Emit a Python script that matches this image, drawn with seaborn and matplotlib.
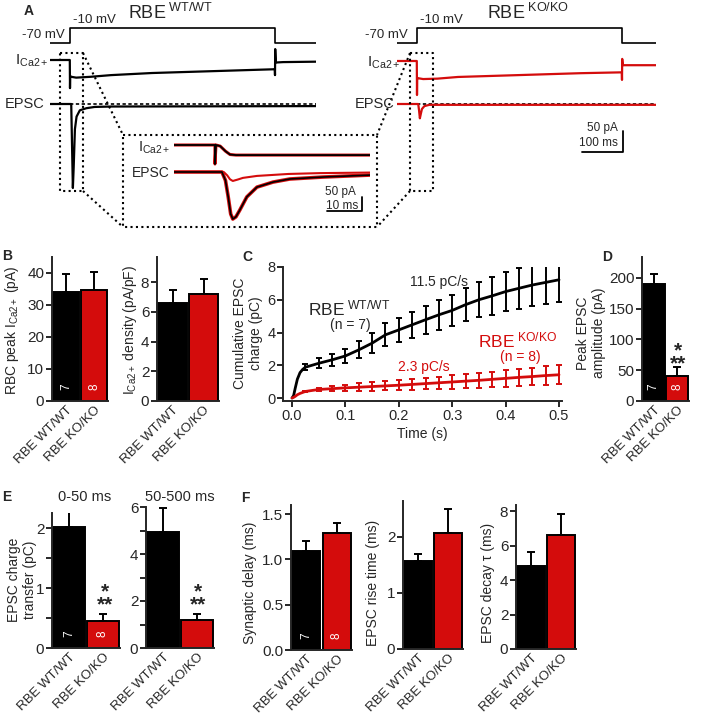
import matplotlib
matplotlib.use('Agg')
import matplotlib.pyplot as plt
import numpy as np
import pandas as pd
import seaborn as sns

# ---------------- data ----------------
genotypes = ['RBE WT/WT', 'RBE KO/KO']
n_cells = ['7', '8']

# B
ica_peak = [34.1, 34.7]
ica_peak_sem = [5.6, 5.6]
ica_dens = [6.58, 7.18]
ica_dens_sem = [0.92, 1.02]
# D
epsc_peak = [190, 40.6]
epsc_peak_sem = [16.5, 14.4]
# E
q_early = [2.02, 0.45]
q_early_sem = [0.33, 0.12]
q_late = [4.94, 1.19]
q_late_sem = [1.02, 0.26]
# F
syn_delay = [1.09, 1.29]
syn_delay_sem = [0.11, 0.11]
rise_time = [1.57, 2.07]
rise_time_sem = [0.13, 0.43]
decay_tau = [4.81, 6.61]
decay_tau_sem = [0.81, 1.22]

# C : cumulative charge (pC) vs time (s)
t_fast = [0, 0.003, 0.006, 0.01, 0.015, 0.02]
wt_fast = [0, 0.15, 0.6, 1.15, 1.55, 1.75]
ko_fast = [0, 0.04, 0.1, 0.2, 0.28, 0.34]
t_bin = [0.025, 0.05, 0.075, 0.1, 0.125, 0.15, 0.175, 0.2, 0.225, 0.25,
         0.275, 0.3, 0.325, 0.35, 0.375, 0.4, 0.425, 0.45, 0.475, 0.5]
wt_q = [1.88, 2.12, 2.33, 2.57, 2.94, 3.35, 3.86, 4.16, 4.47, 4.78,
        5.08, 5.35, 5.70, 6.00, 6.24, 6.50, 6.70, 6.90, 7.06, 7.22]
wt_q_sem = [0.2, 0.3, 0.38, 0.45, 0.52, 0.6, 0.7, 0.72, 0.78, 0.85,
            0.9, 0.95, 1.0, 1.08, 1.15, 1.2, 1.25, 1.3, 1.35, 1.35]
ko_q = [0.4, 0.52, 0.57, 0.62, 0.66, 0.7, 0.74, 0.78, 0.83, 0.88,
        0.93, 0.98, 1.03, 1.08, 1.14, 1.2, 1.26, 1.31, 1.37, 1.42]
ko_q_sem = [0.05, 0.1, 0.15, 0.2, 0.23, 0.26, 0.28, 0.3, 0.32, 0.35,
            0.38, 0.4, 0.42, 0.45, 0.47, 0.5, 0.52, 0.54, 0.56, 0.58]

# A : example traces (ms, mV / pA)
cmd_t = [-50, 0, 0, 500, 500, 600]
cmd_mv = [-70, -70, -10, -10, -70, -70]

ica_wt_t = [-50, -0.5, 0, 0.5, 3, 15, 50, 100, 200, 300, 400, 499.5, 500, 500.5, 502, 520, 600]
ica_wt = [0, 0, -67, -38, -40, -42, -40, -36, -31, -28, -25, -22, -36, 26, -6, -5, -4]
ica_ko_t = [-50, -0.5, 0, 0.5, 3, 15, 50, 100, 200, 300, 400, 499.5, 500, 500.5, 502, 520, 600]
ica_ko = [0, 0, -81, -40, -41, -43, -42, -38, -35, -32, -29, -27, -45, 5, -10, -10, -10]

epsc_wt_t = [-50, 3, 5, 7, 9, 12, 16, 24, 40, 60, 100, 600]
epsc_wt = [0, 0, -100, -200, -150, -60, -30, -15, -10, -7, -6, -5]
epsc_ko_t = [-50, 3, 5, 7, 9, 12, 18, 30, 600]
epsc_ko = [0, 0, -15, -34, -25, -12, -5, -2, -2]

# inset (ms, pA)
ica_in_t = [-11.7, 0, 0, 0.3, 1.5, 3, 4.3, 6, 44.3]
ica_in = [0, 0, -68, 0, -4, -22, -34, -36, -36]
epsc_in_t = [-11.7, 2.0, 3.0, 3.8, 4.5, 5.1, 6.0, 7.1, 9.1, 12.0, 16.6, 21.4, 30.9, 44.3]
epsc_in_wt = [0, 0, -30, -90, -150, -168, -160, -136, -89, -54, -36, -25, -18, -11]
epsc_in_ko_t = [-11.7, 2.5, 3.5, 4.3, 5.1, 6.5, 8.0, 12.0, 21.0, 30.0, 44.3]
epsc_in_ko = [0, 0, -12, -26, -32, -27, -21, -14, -7, -4, -2]

# ---------------- style ----------------
sns.set_style('ticks')
plt.rcParams['font.family'] = ['Liberation Sans', 'DejaVu Sans']
plt.rcParams['mathtext.fontset'] = 'custom'
plt.rcParams['mathtext.rm'] = 'Liberation Sans'
plt.rcParams['mathtext.it'] = 'Liberation Sans:italic'
plt.rcParams['mathtext.bf'] = 'Liberation Sans:bold'
plt.rcParams['axes.linewidth'] = 1.4

BLACK = '#000000'
RED = '#d40c0c'
W, H = 709, 716
ICA = 'I$_{\\mathrm{Ca2+}}$'

fig = plt.figure(figsize=(W / 100, H / 100), dpi=100)


def px_axes(x0, y0, x1, y1):
    return fig.add_axes([x0 / W, 1 - y1 / H, (x1 - x0) / W, (y1 - y0) / H])


def ylab(ax, text, px_x, px_y, fs=10):
    p = ax.get_position()
    ax.set_ylabel(text, fontsize=fs, va='center', ha='center', multialignment='center')
    ax.yaxis.set_label_coords((px_x / W - p.x0) / p.width,
                              ((1 - px_y / H) - p.y0) / p.height)


def trace_axes(x0, y0, t0, t1, ms_px, pa_px, h):
    ax = px_axes(x0, y0, x0 + (t1 - t0) * ms_px, y0 + h)
    ax.set_xlim(t0, t1)
    ax.set_ylim(-h / pa_px, 0)
    ax.axis('off')
    return ax


# ---------------- A: traces ----------------
PA = 0.42
MS = 0.41
cmd_k = 15 / PA / 60
for x0, t1, ica_t, ica, ep_t, ep, col, ica_y in [
        (49.5, 600, ica_wt_t, ica_wt, epsc_wt_t, epsc_wt, BLACK, 60),
        (396.5, 583, ica_ko_t, ica_ko, epsc_ko_t, epsc_ko, RED, 61)]:
    ax = trace_axes(x0, 20, -50, t1, MS, PA, 180)
    ax.plot(cmd_t, -(43 - 20) / PA + (np.array(cmd_mv) + 70) * cmd_k, color=BLACK, lw=1.2)
    ax.plot(ica_t, -(ica_y - 20) / PA + np.array(ica), color=col, lw=1.6)
    ax.plot([0, t1], [-(104 - 20) / PA] * 2, color=BLACK, lw=1.2, ls=(0, (2, 1.5)))
    ax.plot(ep_t, -(104 - 20) / PA + np.array(ep), color=col, lw=1.6)
    if col == RED:
        ax.plot([402, 502, 502], [-(152 - 20) / PA] * 2 + [-(152 - 20) / PA + 50],
                color=BLACK, lw=1.3)

# inset
PA_I = 0.28
axi = trace_axes(174, 135, -11.7, 44.3, 3.5, PA_I, 92)
ica_off = -(145 - 135) / PA_I
ep_off = -(172 - 135) / PA_I
axi.plot(ica_in_t, ica_off + np.array(ica_in), color=RED, lw=2.2)
axi.plot(ica_in_t, ica_off + np.array(ica_in), color=BLACK, lw=1.3)
axi.plot(epsc_in_ko_t, ep_off + np.array(epsc_in_ko), color=RED, lw=1.5)
axi.plot(epsc_in_t, ep_off + np.array(epsc_in_wt), color=RED, lw=2.6)
axi.plot(epsc_in_t, ep_off + np.array(epsc_in_wt), color=BLACK, lw=1.2)
sb_y = -(211 - 135) / PA_I
axi.plot([32, 42, 42], [sb_y, sb_y, sb_y + 50], color=BLACK, lw=1.3)


# ---------------- bar panels ----------------
def bar_panel(box, vals, sems, ymax, ticks, minor=None, ns=False):
    ax = px_axes(*box)
    df = pd.DataFrame({'genotype': genotypes, 'value': vals})
    sns.barplot(data=df, x='genotype', y='value', hue='genotype',
                palette=[BLACK, RED], saturation=1, legend=False, width=0.92,
                edgecolor=BLACK, linewidth=1.4, errorbar=None, ax=ax)
    ax.errorbar([0, 1], vals, yerr=[[0, 0], sems], fmt='none', ecolor=BLACK,
                elinewidth=1.4, capsize=3, capthick=1.4, zorder=0)
    ax.set_xlim(-0.5, 1.5)
    ax.set_ylim(0, ymax)
    sns.despine(ax=ax)
    ax.set_xlabel('')
    ax.set_ylabel('')
    ax.set_yticks(ticks)
    if minor is not None:
        ax.set_yticks(minor, minor=True)
    ax.set_xticks([0, 1])
    ax.set_xticklabels(genotypes, rotation=45, ha='right',
                       rotation_mode='anchor', fontsize=9.5)
    ax.tick_params(axis='x', length=0, pad=2)
    ax.tick_params(axis='y', which='both', length=4, width=1.4,
                   labelsize=11, pad=1.5)
    if ns:
        for i, n in enumerate(n_cells):
            ax.annotate(n, xy=(i, 0), xytext=(0, 10), textcoords='offset points',
                        color='white', rotation=90, ha='center', va='center',
                        fontsize=8.5)
    return ax


axB1 = bar_panel((52, 257, 108, 401), ica_peak, ica_peak_sem, 45, [0, 10, 20, 30, 40], ns=True)
ylab(axB1, 'RBC peak ' + ICA + ' (pA)', 12, 330)
axB2 = bar_panel((157, 257, 219, 401), ica_dens, ica_dens_sem, 9.7, [0, 2, 4, 6, 8])
ylab(axB2, ICA + ' density (pA/pF)', 130, 330)

axD = bar_panel((642, 257, 689, 401), epsc_peak, epsc_peak_sem, 234, [0, 50, 100, 150, 200], ns=True)
ylab(axD, 'Peak EPSC\namplitude (pA)', 591, 333)

axE1 = bar_panel((52, 513, 120, 648), q_early, q_early_sem, 2.25, [0, 1, 2],
                 minor=[0.5, 1.5], ns=True)
ylab(axE1, 'EPSC charge\ntransfer (pC)', 22, 580)
axE2 = bar_panel((146, 507, 214, 648), q_late, q_late_sem, 6.0, [0, 2, 4, 6],
                 minor=[1, 3, 5])

axF1 = bar_panel((291, 505, 352, 650), syn_delay, syn_delay_sem, 1.6,
                 [0, 0.5, 1.0, 1.5], ns=True)
axF1.set_yticklabels(['0.0', '0.5', '1.0', '1.5'])
ylab(axF1, 'Synaptic delay (ms)', 250, 583)
axF2 = bar_panel((403, 501, 463, 649), rise_time, rise_time_sem, 2.64, [0, 1, 2])
ylab(axF2, 'EPSC rise time (ms)', 373, 583)
axF3 = bar_panel((516, 505, 576, 649), decay_tau, decay_tau_sem, 8.35, [0, 2, 4, 6, 8])
ylab(axF3, 'EPSC decay \u03c4 (ms)', 488, 583)

# ---------------- C ----------------
axC = px_axes(283, 267, 562, 401)
sns.lineplot(x=t_fast + t_bin, y=wt_fast + wt_q, color=BLACK, lw=2, ax=axC)
sns.lineplot(x=t_fast + t_bin, y=ko_fast + ko_q, color=RED, lw=2, ax=axC)
axC.errorbar(t_bin, wt_q, yerr=wt_q_sem, fmt='none', ecolor=BLACK,
             elinewidth=1.4, capsize=2.5, capthick=1.4)
axC.errorbar(t_bin, ko_q, yerr=ko_q_sem, fmt='none', ecolor=RED,
             elinewidth=1.4, capsize=2.5, capthick=1.4)
axC.set_xlim(-0.0169, 0.5056)
axC.set_ylim(-0.183, 8.0)
sns.despine(ax=axC)
axC.set_xticks([0, 0.1, 0.2, 0.3, 0.4, 0.5])
axC.set_xticklabels(['0.0', '0.1', '0.2', '0.3', '0.4', '0.5'])
axC.set_yticks([0, 2, 4, 6, 8])
axC.tick_params(length=4, width=1.4, labelsize=10.5, pad=1.5)
axC.set_xlabel('Time (s)', fontsize=10, labelpad=3)
ylab(axC, 'Cumulative EPSC\ncharge (pC)', 248, 333)

# ---------------- overlay: annotations ----------------
ov = fig.add_axes([0, 0, 1, 1])
ov.set_xlim(0, W)
ov.set_ylim(H, 0)
ov.axis('off')
dot = dict(color=BLACK, lw=1.5, ls=(0, (1, 1.6)))
for xs, ys in [([60, 83, 83, 60, 60], [53, 53, 191, 191, 53]),
               ([410, 433, 433, 410, 410], [53, 53, 191, 191, 53]),
               ([123, 377, 377, 123, 123], [135, 135, 227, 227, 135]),
               ([83, 123], [53, 135]), ([83, 123], [191, 227]),
               ([410, 377], [53, 135]), ([410, 377], [191, 227])]:
    ov.plot(xs, ys, **dot)


def T(x, y, s, **kw):
    kw.setdefault('fontsize', 10)
    kw.setdefault('va', 'center')
    ov.text(x, y, s, **kw)


for x, y, s in [(29, 11, 'A'), (7, 256, 'B'), (247, 257, 'C'), (607, 257, 'D'),
                (7, 497, 'E'), (245, 498, 'F')]:
    T(x, y, s, ha='center', fontweight='bold')

T(65, 35, '-70 mV', ha='right', fontsize=9.5)
T(73, 20, '-10 mV', ha='left', fontsize=9.5)
T(128, 13, 'RBE$^{\\ \\mathrm{WT/WT}}$', ha='left', fontsize=13)
T(48, 61, ICA, ha='right', fontsize=11)
T(44, 104, 'EPSC', ha='right', fontsize=10.5)
T(408, 35, '-70 mV', ha='right', fontsize=9.5)
T(420, 20, '-10 mV', ha='left', fontsize=9.5)
T(487, 13, 'RBE$^{\\ \\mathrm{KO/KO}}$', ha='left', fontsize=13)
T(400, 63, ICA, ha='right', fontsize=11)
T(395, 104, 'EPSC', ha='right', fontsize=10.5)
T(170, 148, ICA, ha='right', fontsize=10.5)
T(170, 173, 'EPSC', ha='right', fontsize=10)
T(356, 192, '50 pA', ha='right', fontsize=8.5)
T(358, 206, '10 ms', ha='right', fontsize=8.5)
T(618, 128, '50 pA', ha='right', fontsize=8.5)
T(618, 143, '100 ms', ha='right', fontsize=8.5)

T(410, 282, '11.5 pC/s', ha='left')
T(308, 308, 'RBE$^{\\ \\mathrm{WT/WT}}$', ha='left', fontsize=12.5)
T(350, 325, '(n = 7)', ha='center')
T(478, 340, 'RBE$^{\\ \\mathrm{KO/KO}}$', ha='left', fontsize=12.5, color=RED)
T(520, 357, '(n = 8)', ha='center', color=RED)
T(398, 367, '2.3 pC/s', ha='left', color=RED)

T(85, 497, '0-50 ms', ha='center', fontsize=10.5)
T(180, 497, '50-500 ms', ha='center', fontsize=10.5)

for x, y in [(678, 357), (105, 598), (198, 598)]:
    T(x, y, '*\n**', ha='center', multialignment='center', fontsize=15,
      fontweight='bold', linespacing=0.6)

fig.savefig('out.png', dpi=100)
